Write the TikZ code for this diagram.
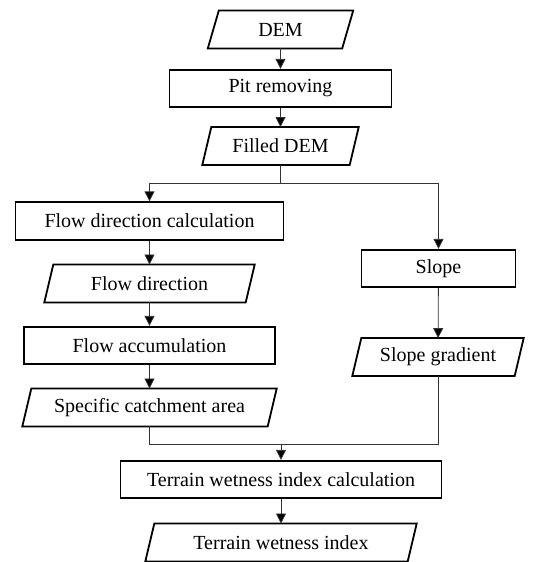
\documentclass[tikz,border=0pt]{standalone}
\usepackage{fontspec}
\setmainfont{Liberation Serif}
\usetikzlibrary{arrows.meta}
\newcommand\iopara[2]{\draw[line width=1.8pt,line join=miter] ([xshift=#2pt]#1.north west) -- ([xshift=#2pt]#1.north east) -- ([xshift=-#2pt]#1.south east) -- ([xshift=-#2pt]#1.south west) -- cycle;}
\begin{document}
\begin{tikzpicture}[x=1pt,y=-1pt,
  every node/.style={font=\fontsize{20}{24}\selectfont, inner sep=0pt, text=black},
  procbox/.style={draw, line width=1.8pt, minimum height=37.5pt},
  iobox/.style={minimum height=37.5pt},
  conn/.style={line width=0.8pt, draw=black!80},
  arr/.style={conn, -{Triangle[length=10pt,width=10pt,fill=black]}}]
\useasboundingbox (0,0) rectangle (548,562);

\node[iobox, minimum width=134pt] (dem) at (280.5,29.5) {DEM};
\iopara{dem}{5.5}
\node[procbox, minimum width=222pt] (pit) at (280.5,88.5) {Pit removing};
\node[iobox, minimum width=147pt] (fdem) at (280.5,146) {Filled DEM};
\iopara{fdem}{4.5}
\node[procbox, minimum width=268pt] (fdc) at (149.5,221) {Flow direction calculation};
\node[iobox, minimum width=201pt] (fd) at (149.5,283.5) {Flow direction};
\iopara{fd}{4.5}
\node[procbox, minimum width=251pt] (fa) at (149.5,345.5) {Flow accumulation};
\node[iobox, minimum width=245pt] (sca) at (149.5,407.5) {Specific catchment area};
\iopara{sca}{4.5}
\node[procbox, minimum width=154pt] (slope) at (438.5,268.5) {Slope};
\node[iobox, minimum width=162pt] (sg) at (438,357) {Slope gradient};
\iopara{sg}{4.5}
\node[procbox, minimum width=321pt] (twic) at (281,479.5) {Terrain wetness index calculation};
\node[iobox, minimum width=262pt] (twi) at (281,542.5) {Terrain wetness index};
\iopara{twi}{4.5}

\draw[arr] (dem) -- (pit);
\draw[arr] (pit) -- (fdem);
\draw[conn] (fdem.south) -- (fdem.south |- 0,183) coordinate (sp);
\draw[conn] (fdc.north |- sp) -- (slope.north |- sp);
\draw[arr] (fdc.north |- sp) -- (fdc.north);
\draw[arr] (slope.north |- sp) -- (slope.north);
\draw[arr] (fdc) -- (fd);
\draw[arr] (fd) -- (fa);
\draw[arr] (fa) -- (sca);
\draw[arr] (slope) -- (sg);
\draw[conn] (sca.south) -- (sca.south |- 0,444) coordinate (ml) -- (sg.south |- 0,444) coordinate (mr) -- (sg.south);
\draw[arr] (twic.north |- ml) -- (twic.north);
\draw[arr] (twic) -- (twi);
\end{tikzpicture}
\end{document}
